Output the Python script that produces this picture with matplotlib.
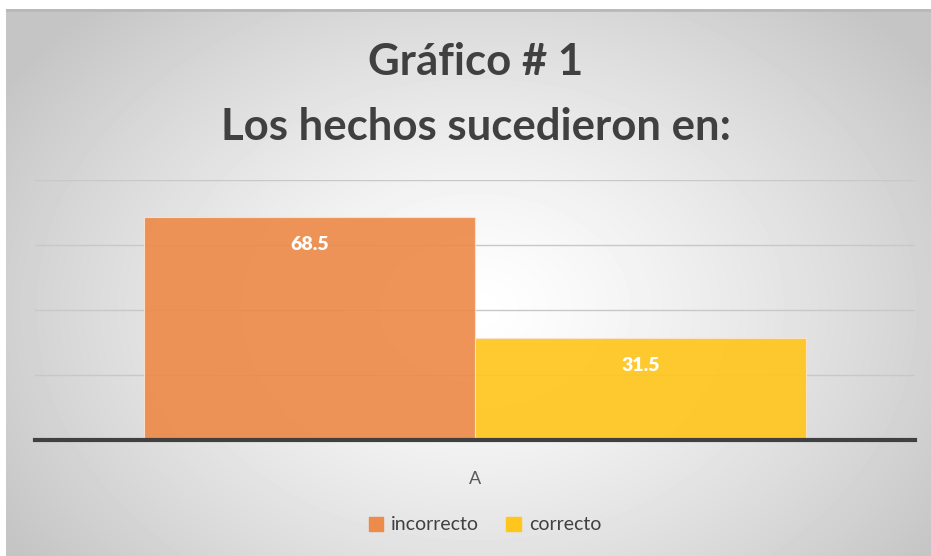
import numpy as np
import matplotlib.pyplot as plt
from matplotlib.patches import Patch

categories = ["A"]
series_names = ["incorrecto", "correcto"]
values = [68.5, 31.5]
colors = ["#ED8B4A", "#FFC61E"]

plt.rcParams['font.family'] = ['Lato', 'DejaVu Sans']

fig = plt.figure(figsize=(9.31, 5.56), dpi=100)

# radial gradient background
bg = fig.add_axes([6 / 931, 0, 925 / 931, 547 / 556], zorder=-10)
yy, xx = np.mgrid[0:547, 0:925]
r = np.sqrt(((xx - 470) / 560.0) ** 2 + ((yy - 300) / 420.0) ** 2)
shade = 1.0 - 0.23 * np.clip(r, 0, 1) ** 1.3
bg.imshow(shade, cmap="gray", vmin=0, vmax=1, aspect="auto", interpolation="bilinear")
bg.axhline(0.5, color="#b8b8b8", lw=2)
bg.axis("off")

ax = fig.add_axes([35 / 931, 116 / 556, 880 / 931, 260 / 556])
ax.patch.set_alpha(0)
w = 0.376
x = np.arange(len(categories))
for i, (name, v, c) in enumerate(zip(series_names, values, colors)):
    pos = x + (i - 0.5) * w
    ax.bar(pos, v, width=w, color=c, alpha=0.92, edgecolor="#fbe3d0", linewidth=0.8, zorder=2, label=name)
    ax.text(pos[0], v - 8.5, f"{v}", ha="center", va="center", color="white",
            fontsize=14, fontweight="heavy", zorder=3)

ax.set_xlim(-0.5, 0.5)
ax.set_ylim(0, 80)
ax.set_yticks([0, 20, 40, 60, 80])
ax.yaxis.grid(True, color="#c8c8c8", lw=1, zorder=1)
ax.tick_params(axis="y", length=0, labelleft=False)
ax.set_xticks(x)
ax.set_xticklabels(categories, fontsize=13, color="#595959")
ax.tick_params(axis="x", length=0, pad=22)
for s in ["top", "right", "left"]:
    ax.spines[s].set_visible(False)
ax.spines["bottom"].set_color("#404040")
ax.spines["bottom"].set_linewidth(3)
ax.spines["bottom"].set_zorder(4)

fig.text(476 / 931, 1 - 62 / 556, "Gráfico # 1", ha="center", va="center",
         fontsize=31.5, fontweight="bold", color="#404040")
fig.text(476 / 931, 1 - 127 / 556, "Los hechos sucedieron en:", ha="center", va="center",
         fontsize=31.5, fontweight="bold", color="#404040")

handles = [Patch(color=c, label=n) for n, c in zip(series_names, colors)]
fig.legend(handles=handles, loc="center", bbox_to_anchor=(485 / 931, 1 - 525 / 556), ncol=2,
           frameon=False, fontsize=14, handlelength=0.75, handleheight=0.75,
           handletextpad=0.4, columnspacing=1.4, labelcolor="#404040")

fig.savefig("out.png", dpi=100)
